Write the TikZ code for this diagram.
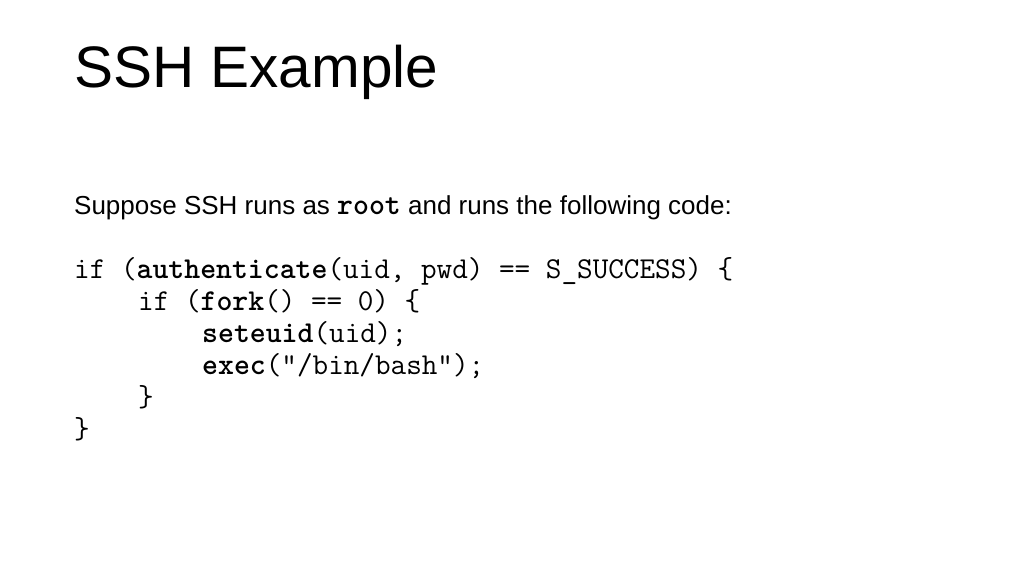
\documentclass[tikz,border=0pt]{standalone}
\usepackage{fontspec}
\setmainfont{Liberation Sans}
\usetikzlibrary{positioning}

\tikzset{
    txt/.style={anchor=base west, inner sep=0pt},
    codeline/.style={txt, font=\fontsize{30.3}{34}\ttfamily},
}

\begin{document}
\begin{tikzpicture}[x=1pt, y=-1pt]
    \useasboundingbox (0, 0) rectangle (1024, 576);

    \node[txt, font=\fontsize{58.5}{70}\selectfont] (title) at (74, 87) {SSH Example};
    \node[txt, font=\fontsize{26}{30}\selectfont] (intro) at (74, 214)
        {Suppose SSH runs as {\fontsize{30.3}{34}\ttfamily\textbf{root}} and runs the following code:};

    \node[codeline] (l1) at (74, 278)  {if (\textbf{authenticate}(uid, pwd) == S\_SUCCESS) \{};
    \node[codeline] (l2) at (138, 310) {if (\textbf{fork}() == 0) \{};
    \node[codeline] (l3) at (202, 342) {\textbf{seteuid}(uid);};
    \node[codeline] (l4) at (202, 374) {\textbf{exec}(“/bin/bash”);};
    \node[codeline] (l5) at (138, 406) {\}};
    \node[codeline] (l6) at (74, 438)  {\}};
\end{tikzpicture}
\end{document}
